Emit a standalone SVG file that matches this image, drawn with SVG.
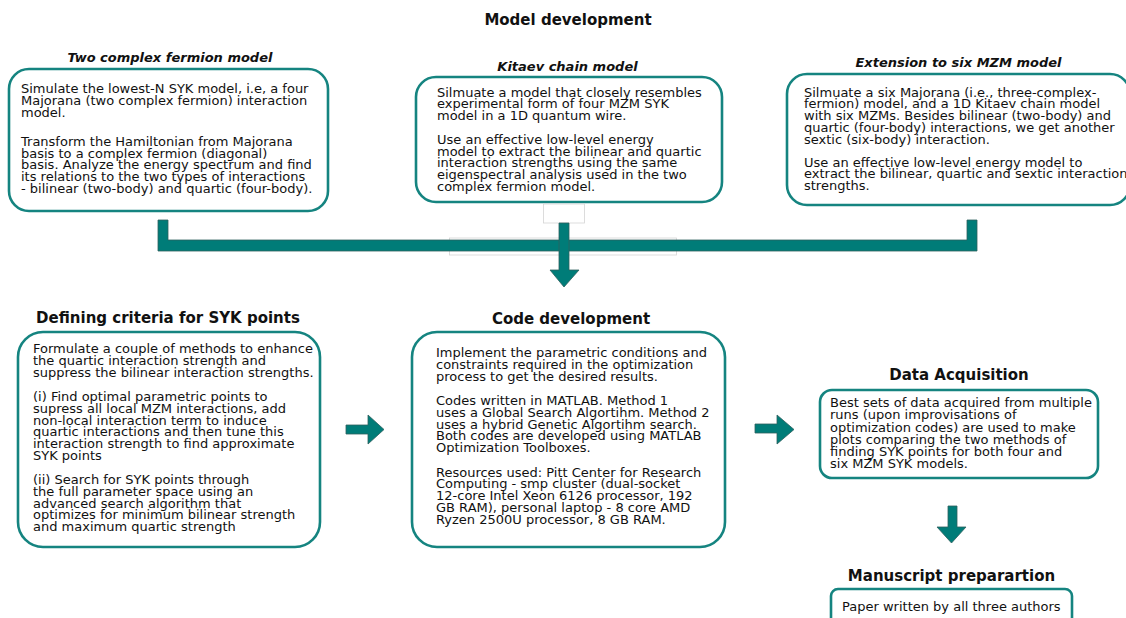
<svg xmlns="http://www.w3.org/2000/svg" width="1126" height="618" viewBox="0 0 1126 618">
<style>
.box{fill:#fff;stroke:#158480;stroke-width:2.6}
.t{font-family:"DejaVu Sans",Verdana,sans-serif;font-size:13px;fill:#111}
.h{font-family:"DejaVu Sans",Verdana,sans-serif;font-size:15px;font-weight:bold;fill:#111;text-anchor:middle}
.hi{font-family:"DejaVu Sans",Verdana,sans-serif;font-size:13px;font-weight:bold;font-style:italic;fill:#111;text-anchor:middle}
.arr{fill:#007c78;stroke:#2d5f5d;stroke-width:0.8}
.ghost{fill:#fff;stroke:#d4d4d4;stroke-width:0.8}
</style>
<rect width="1126" height="618" fill="#fff"/>
<text class="h" x="568" y="25">Model development</text>

<g id="two-complex-fermion">
<text class="hi" x="170" y="62">Two complex fermion model</text>
<rect class="box" x="9" y="69" width="319" height="142" rx="20"/>
<text class="t" x="21" y="93.3">Simulate the lowest-N SYK model, i.e, a four</text>
<text class="t" x="21" y="105">Majorana (two complex fermion) interaction</text>
<text class="t" x="21" y="116.7">model.</text>
<text class="t" x="21" y="146">Transform the Hamiltonian from Majorana</text>
<text class="t" x="21" y="157.7">basis to a complex fermion (diagonal)</text>
<text class="t" x="21" y="169.4">basis. Analyze the energy spectrum and find</text>
<text class="t" x="21" y="181.1">its relations to the two types of interactions</text>
<text class="t" x="21" y="192.8">- bilinear (two-body) and quartic (four-body).</text>
</g>

<g id="kitaev-chain">
<text class="hi" x="567.5" y="71">Kitaev chain model</text>
<rect class="box" x="416" y="77" width="306" height="125" rx="20"/>
<text class="t" x="437" y="96.7">Silmuate a model that closely resembles</text>
<text class="t" x="437" y="108.4">experimental form of four MZM SYK</text>
<text class="t" x="437" y="120.1">model in a 1D quantum wire.</text>
<text class="t" x="437" y="144">Use an effective low-level energy</text>
<text class="t" x="437" y="155.7">model to extract the bilinear and quartic</text>
<text class="t" x="437" y="167.4">interaction strengths using the same</text>
<text class="t" x="437" y="179.1">eigenspectral analysis used in the two</text>
<text class="t" x="437" y="190.8">complex fermion model.</text>
</g>

<g id="six-mzm">
<text class="hi" x="958.5" y="67">Extension to six MZM model</text>
<rect class="box" x="787" y="74" width="343" height="131" rx="20"/>
<text class="t" x="804" y="96.7">Silmuate a six Majorana (i.e., three-complex-</text>
<text class="t" x="804" y="108.4">fermion) model, and a 1D Kitaev chain model</text>
<text class="t" x="804" y="120.1">with six MZMs. Besides bilinear (two-body) and</text>
<text class="t" x="804" y="131.8">quartic (four-body) interactions, we get another</text>
<text class="t" x="804" y="143.5">sextic (six-body) interaction.</text>
<text class="t" x="804" y="166.7">Use an effective low-level energy model to</text>
<text class="t" x="804" y="178.4">extract the bilinear, quartic and sextic interaction</text>
<text class="t" x="804" y="190.1">strengths.</text>
</g>

<g id="connectors">
<rect class="ghost" x="543.5" y="204" width="41" height="19"/>
<rect class="ghost" x="449.5" y="238" width="227" height="17"/>
<polygon class="arr" points="158,220 168,220 168,240 967,240 967,220 977,220 977,251 158,251"/>
<polygon class="arr" points="559,223 569,223 569,270 579,270 564,287 550,270 559,270"/>
<polygon class="arr" points="346,425 368,425 368,415 384,429.5 368,444 368,434 346,434"/>
<polygon class="arr" points="755,424 777,424 777,415 794,429.5 777,444 777,433 755,433"/>
<polygon class="arr" points="948,506 957,506 957,527 966,527 951.5,543 937,527 948,527"/>
</g>

<g id="defining-criteria">
<text class="h" x="168" y="323">Defining criteria for SYK points</text>
<rect class="box" x="18" y="332" width="302" height="215" rx="25"/>
<text class="t" x="33" y="353.3">Formulate a couple of methods to enhance</text>
<text class="t" x="33" y="365">the quartic interaction strength and</text>
<text class="t" x="33" y="376.7">suppress the bilinear interaction strengths.</text>
<text class="t" x="33" y="401.3">(i) Find optimal parametric points to</text>
<text class="t" x="33" y="413">supress all local MZM interactions, add</text>
<text class="t" x="33" y="424.7">non-local interaction term to induce</text>
<text class="t" x="33" y="436.4">quartic interactions and then tune this</text>
<text class="t" x="33" y="448.1">interaction strength to find approximate</text>
<text class="t" x="33" y="459.8">SYK points</text>
<text class="t" x="33" y="484.3">(ii) Search for SYK points through</text>
<text class="t" x="33" y="496">the full parameter space using an</text>
<text class="t" x="33" y="507.7">advanced search algorithm that</text>
<text class="t" x="33" y="519.4">optimizes for minimum bilinear strength</text>
<text class="t" x="33" y="531.1">and maximum quartic strength</text>
</g>

<g id="code-development">
<text class="h" x="571" y="324">Code development</text>
<rect class="box" x="412" y="332" width="313" height="215" rx="25"/>
<text class="t" x="436" y="357.3">Implement the parametric conditions and</text>
<text class="t" x="436" y="369.2">constraints required in the optimization</text>
<text class="t" x="436" y="381.1">process to get the desired results.</text>
<text class="t" x="436" y="404.7">Codes written in MATLAB. Method 1</text>
<text class="t" x="436" y="416.6">uses a Global Search Algortihm. Method 2</text>
<text class="t" x="436" y="428.5">uses a hybrid Genetic Algortihm search.</text>
<text class="t" x="436" y="440.4">Both codes are developed using MATLAB</text>
<text class="t" x="436" y="452.3">Optimization Toolboxes.</text>
<text class="t" x="436" y="476.5">Resources used: Pitt Center for Research</text>
<text class="t" x="436" y="488.4">Computing - smp cluster (dual-socket</text>
<text class="t" x="436" y="500.3">12-core Intel Xeon 6126 processor, 192</text>
<text class="t" x="436" y="512.2">GB RAM), personal laptop - 8 core AMD</text>
<text class="t" x="436" y="524.1">Ryzen 2500U processor, 8 GB RAM.</text>
</g>

<g id="data-acquisition">
<text class="h" x="959" y="380">Data Acquisition</text>
<rect class="box" x="820" y="390" width="278" height="88" rx="12"/>
<text class="t" x="830" y="407.3">Best sets of data acquired from multiple</text>
<text class="t" x="830" y="419.4">runs (upon improvisations of</text>
<text class="t" x="830" y="431.5">optimization codes) are used to make</text>
<text class="t" x="830" y="443.6">plots comparing the two methods of</text>
<text class="t" x="830" y="455.7">finding SYK points for both four and</text>
<text class="t" x="830" y="467.8">six MZM SYK models.</text>
</g>

<g id="manuscript">
<text class="h" x="951.5" y="581">Manuscript preparartion</text>
<rect class="box" x="831" y="589" width="241" height="50" rx="7"/>
<text class="t" x="842" y="611">Paper written by all three authors</text>
</g>
</svg>
